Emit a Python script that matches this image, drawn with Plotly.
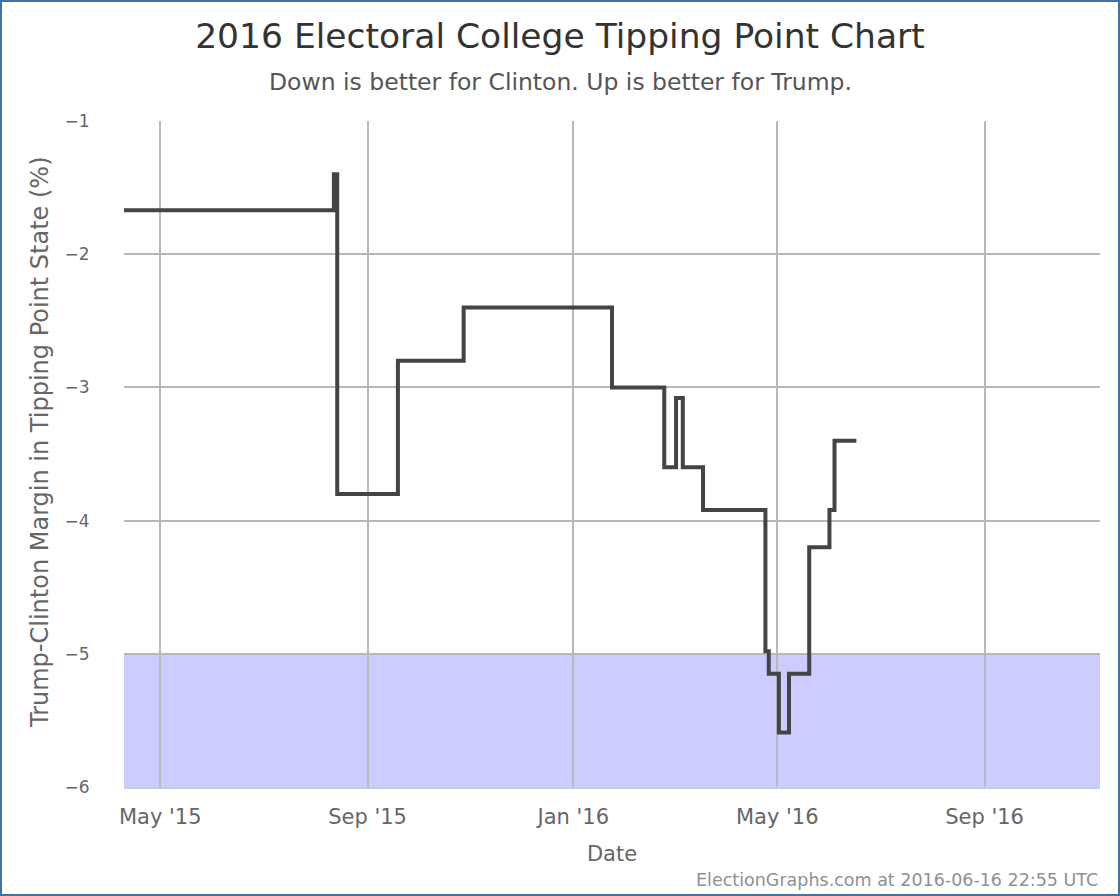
import plotly.graph_objects as go

# ---- data ----
dates = ['2015-04-09', '2015-08-12', '2015-08-14', '2015-09-19', '2015-10-28',
         '2016-01-24', '2016-02-24', '2016-03-02', '2016-03-06', '2016-03-18',
         '2016-04-24', '2016-04-26', '2016-05-02', '2016-05-08', '2016-05-20',
         '2016-06-01', '2016-06-04', '2016-06-16 22:55']
margins = [-1.67, -1.40, -3.80, -2.80, -2.40,
           -3.00, -3.60, -3.08, -3.60, -3.92,
           -4.98, -5.15, -5.59, -5.15, -4.20,
           -3.92, -3.40, -3.40]
tick_dates = ['2015-05-01', '2015-09-01', '2016-01-01', '2016-05-01', '2016-09-01']
tick_labels = ["May '15", "Sep '15", "Jan '16", "May '16", "Sep '16"]
y_ticks = [-1, -2, -3, -4, -5, -6]
band_top = -5
band_bottom = -6

FONT = 'DejaVu Sans'
W, H = 1120, 896
ML, MR, MT, MB = 124, 20, 121, 109
PW, PH = W - ML - MR, H - MT - MB

def px_to_paper_x(p):
    return (p - ML) / PW

def px_to_paper_y(p):
    return (H - MB - p) / PH

fig = go.Figure()
fig.add_trace(go.Scatter(
    x=dates, y=margins, mode='lines', line=dict(color='#434348', width=4, shape='hv'),
    hoverinfo='x+y', showlegend=False))

fig.add_shape(type='rect', xref='paper', yref='y', x0=0, x1=1, y0=band_bottom, y1=band_top,
              fillcolor='#ccccff', line=dict(width=0), layer='below')
# outer border
fig.add_shape(type='rect', xref='paper', yref='paper',
              x0=px_to_paper_x(1), x1=px_to_paper_x(W - 1),
              y0=px_to_paper_y(H - 1), y1=px_to_paper_y(1),
              line=dict(color='#4572a7', width=2), fillcolor='rgba(0,0,0,0)')

fig.update_layout(
    width=W, height=H,
    margin=dict(l=ML, r=MR, t=MT, b=MB),
    paper_bgcolor='white', plot_bgcolor='white',
    title=dict(text='2016 Electoral College Tipping Point Chart', x=0.5, xref='container',
               xanchor='center', y=1 - 36 / H, yref='container', yanchor='middle',
               font=dict(family=FONT, size=34.5, color='#333333')),
    annotations=[
        dict(text='Down is better for Clinton. Up is better for Trump.', xref='paper', yref='paper',
             x=px_to_paper_x(560), y=px_to_paper_y(82), xanchor='center', yanchor='middle',
             showarrow=False, font=dict(family=FONT, size=23.5, color='#555555')),
        dict(text='Trump-Clinton Margin in Tipping Point State (%)', xref='paper', yref='paper',
             x=px_to_paper_x(40), y=px_to_paper_y(442), xanchor='center', yanchor='middle',
             textangle=-90, showarrow=False,
             font=dict(family=FONT, size=24, color='#666666')),
        dict(text='ElectionGraphs.com at 2016-06-16 22:55 UTC', xref='paper', yref='paper',
             x=px_to_paper_x(1100), y=px_to_paper_y(880), xanchor='right', yanchor='middle',
             showarrow=False, font=dict(family=FONT, size=17.5, color='#909090')),
    ],
    xaxis=dict(type='date', range=['2015-04-09 12:00', '2016-11-08 12:00'],
               tickvals=tick_dates, ticktext=tick_labels,
               showgrid=True, gridcolor='#b8b8b8', gridwidth=2,
               ticks='outside', ticklen=10, tickcolor='rgba(0,0,0,0)',
               showline=True, linecolor='#c0d0e0', linewidth=2,
               tickfont=dict(family=FONT, size=21, color='#666666'),
               title=dict(text='Date', font=dict(family=FONT, size=21, color='#666666'),
                          standoff=18),
               zeroline=False, fixedrange=True),
    yaxis=dict(range=[band_bottom, -1], tickvals=y_ticks,
               showgrid=True, gridcolor='#b8b8b8', gridwidth=2,
               ticks='outside', ticklen=30, tickcolor='rgba(0,0,0,0)',
               tickfont=dict(family=FONT, size=17, color='#666666'),
               zeroline=False, showline=False, fixedrange=True),
)

fig.write_html('out.html', config={'displayModeBar': False},
               post_script="document.body.style.margin='0';")
